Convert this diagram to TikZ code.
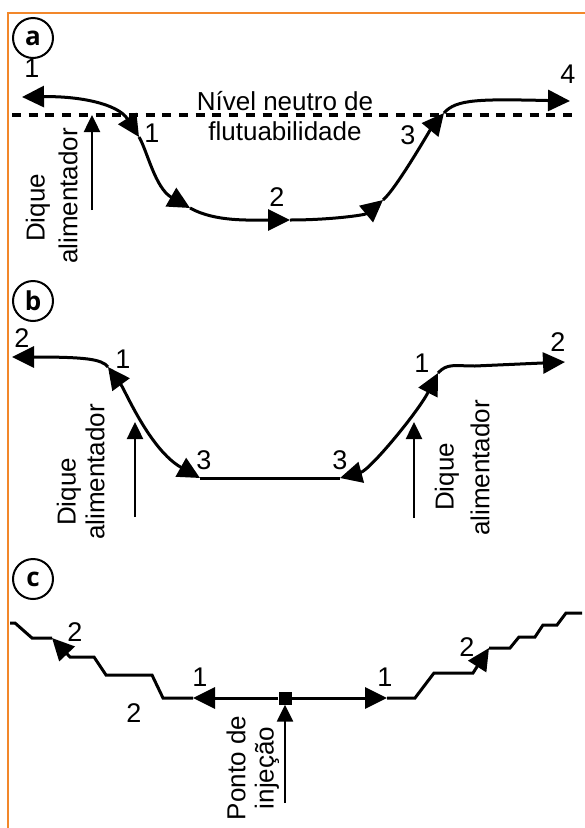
\documentclass[tikz,border=0pt]{standalone}
\usepackage{fontspec}
\setmainfont{Liberation Sans}
\newfontfamily\circfont{Open Sans}
\usetikzlibrary{arrows.meta}
\definecolor{frameorange}{RGB}{242,135,42}
\tikzset{
  flow/.style={line width=3pt, line join=miter},
  tipend/.style={-{Triangle[length=22pt,width=21pt]}},
  tipboth/.style={{Triangle[length=22pt,width=21pt]}-{Triangle[length=22pt,width=21pt]}},
  feeder/.style={line width=2.5pt, -{Triangle[length=17pt,width=16pt]}},
  lbl/.style={font=\fontsize{27}{30}\selectfont, inner sep=0pt},
  word/.style={font=\fontsize{26}{30}\selectfont, inner sep=0pt},
  vword/.style={word, rotate=90},
  panel/.style={circle, draw, line width=2pt, minimum size=40pt, inner sep=0pt,
    font=\circfont\bfseries\fontsize{26}{26}\selectfont},
  level/.style={line width=4pt, dash pattern=on 9pt off 7.7pt},
  frame/.style={draw=frameorange, line width=2.5pt},
}
\begin{document}
\begin{tikzpicture}[x=1pt,y=-1pt]
\useasboundingbox (0,0) rectangle (585,828);
% frame
\coordinate (f0) at (8,828);
\coordinate (f1) at (8,13);
\coordinate (f2) at (585,13);
\draw[frame] (f0) -- (f1) -- (f2);

% ===== panel a =====
\node[panel] (pa) at (33,38) {a};
\coordinate (n0) at (12,115);
\coordinate (n1) at (572,115);
\draw[level] (n0) -- (n1);
\coordinate (a0) at (22,97);
\coordinate (a1) at (139,137);
\coordinate (a2) at (190,208);
\coordinate (a3) at (290,220);
\coordinate (a4) at (383,200);
\coordinate (a5) at (444,113);
\coordinate (a6) at (570,101);
\draw[flow, tipboth] (a0) .. controls (80,96) and (118,104) .. (a1);
\draw[flow, tipend] (a1) .. controls (147,150) and (155,188) .. (a2);
\draw[flow, tipend] (a2) .. controls (215,222) and (250,220) .. (a3);
\draw[flow, tipend] (a3) .. controls (330,220) and (365,215) .. (a4);
\draw[flow, tipend] (a4) .. controls (396,189) and (430,130) .. (a5);
\draw[flow, tipend] (a5) .. controls (456,99) and (480,99) .. (a6);
\coordinate (da0) at (92,210);
\coordinate (da1) at (92,115);
\draw[feeder] (da0) -- (da1);
\node[lbl] (la1) at (32,68) {1};
\node[lbl] (la2) at (152,133) {1};
\node[lbl] (la3) at (277,197) {2};
\node[lbl] (la4) at (408,135) {3};
\node[lbl] (la5) at (568,74) {4};
\node[word, align=center] (nivel) at (285,116) {Nível neutro de\\flutuabilidade};
\node[vword] (dqa) at (38,208) {Dique};
\node[vword] (ala) at (68,196) {alimentador};

% ===== panel b =====
\node[panel] (pb) at (33,301) {b};
\coordinate (b0) at (12,357);
\coordinate (b1) at (108,367);
\coordinate (b2) at (200,478);
\coordinate (b3) at (340,478);
\coordinate (b4) at (438,373);
\coordinate (b5) at (565,362);
\draw[flow, tipend] (b1) .. controls (102,359) and (85,357) .. (b0);
\draw[flow, tipboth] (b1) .. controls (125,390) and (150,450) .. (b2);
\draw[flow] (b2) -- (b3);
\draw[flow, tipboth] (b3) .. controls (370,470) and (418,412) .. (b4);
\draw[flow, tipend] (b4) .. controls (447,363) and (455,366) .. (475,366) -- (b5);
\coordinate (dbl0) at (135,517);
\coordinate (dbl1) at (135,422);
\coordinate (dbr0) at (414,518);
\coordinate (dbr1) at (414,422);
\draw[feeder] (dbl0) -- (dbl1);
\draw[feeder] (dbr0) -- (dbr1);
\node[lbl] (lb1) at (22,338) {2};
\node[lbl] (lb2) at (123,359) {1};
\node[lbl] (lb3) at (204,460) {3};
\node[lbl] (lb4) at (340,460) {3};
\node[lbl] (lb5) at (422,363) {1};
\node[lbl] (lb6) at (558,342) {2};
\node[vword] (dqbl) at (69,492) {Dique};
\node[vword] (albl) at (95,472) {alimentador};
\node[vword] (dqbr) at (447,477) {Dique};
\node[vword] (albr) at (480,468) {alimentador};

% ===== panel c =====
\node[panel] (pc) at (33,579) {c};
\node[fill, minimum size=13pt, inner sep=0pt] (sq) at (285,698) {};
\coordinate (cl) at (193,698);
\coordinate (cr) at (387,698);
\coordinate (cl2) at (52,638);
\coordinate (cr2) at (489,648);
\draw[flow, tipend] (sq) -- (cl);
\draw[flow, tipend] (sq) -- (cr);
\draw[flow, tipend] (cl) -- (163,698) -- (152,675) -- (106,675) -- (94,657) -- (70,657) -- (cl2);
\draw[flow] (cl2) -- (32,638) -- (15,623) -- (10,623);
\draw[flow, tipend] (cr) -- (415,698) -- (434,673) -- (473,673) -- (cr2);
\draw[flow] (cr2) -- (510,648) -- (519,637) -- (535,637) -- (543,625) -- (557,625) -- (566,613) -- (582,613);
\coordinate (inj) at (285,803);
\draw[feeder] (inj) -- (sq.south);
\node[lbl] (lc1) at (75,632) {2};
\node[lbl] (lc2) at (134,713) {2};
\node[lbl] (lc3) at (200,677) {1};
\node[lbl] (lc4) at (385,677) {1};
\node[lbl] (lc5) at (467,647) {2};
\node[vword] (pto) at (236,768) {Ponto de};
\node[vword] (inje) at (267,768) {injeção};
\end{tikzpicture}
\end{document}
